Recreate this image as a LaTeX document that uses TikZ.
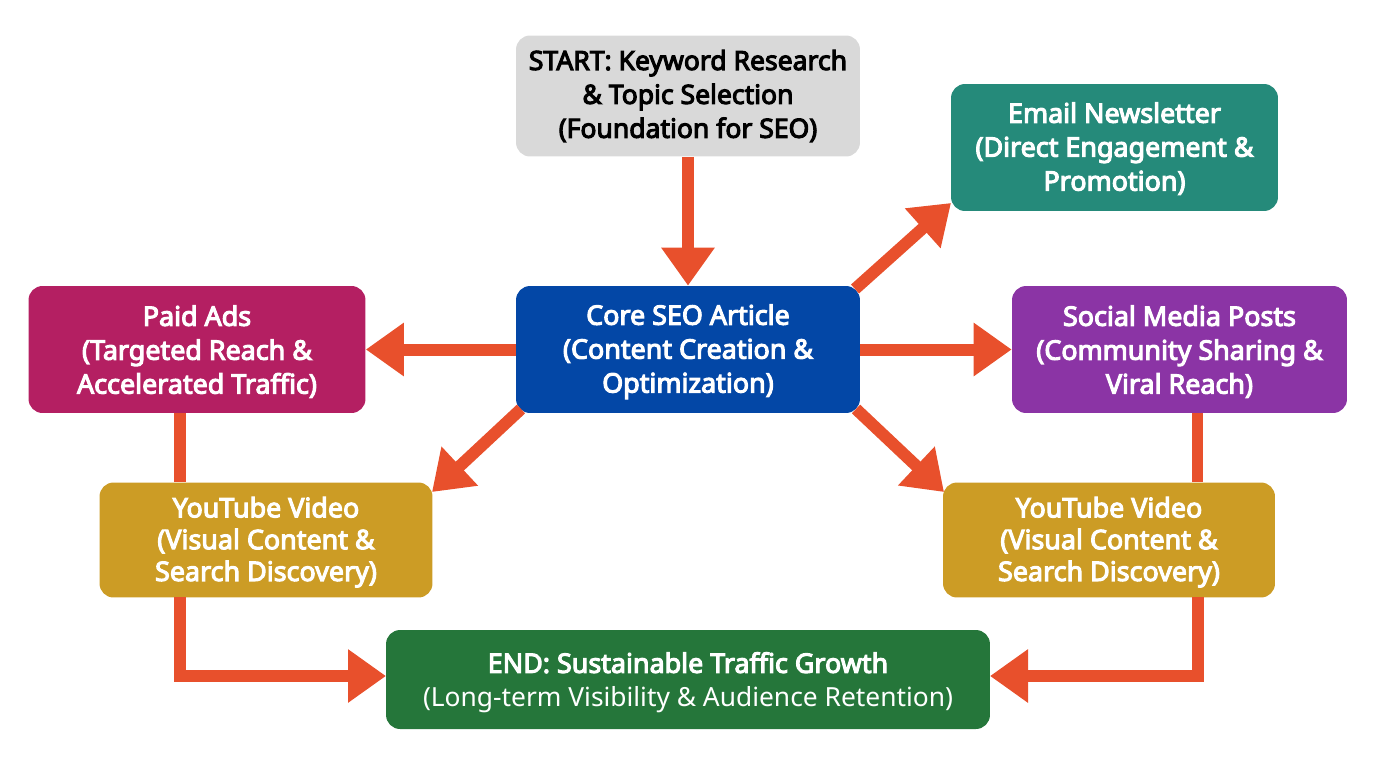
\documentclass[tikz,border=0pt]{standalone}
\usepackage{fontspec}
\setmainfont{Noto Sans}
\newfontfamily\heavyfont{Noto Sans}[FakeBold=4]
\usetikzlibrary{arrows.meta}
\definecolor{startgray}{HTML}{D9D9D9}
\definecolor{teal}{HTML}{258A7A}
\definecolor{corebl}{HTML}{0347A6}
\definecolor{paidred}{HTML}{B41F62}
\definecolor{socialpp}{HTML}{8B34A5}
\definecolor{ytgold}{HTML}{CC9C25}
\definecolor{endgreen}{HTML}{25763A}
\definecolor{arrowred}{HTML}{E8502C}
\tikzset{
  stepbox/.style={rounded corners=0.28cm, align=center, text=white, inner sep=0pt, text depth=1.2pt, font=\fontsize{15.3}{19.3}\selectfont\heavyfont},
  flow/.style={draw=arrowred, line width=0.24cm, -{Triangle[length=0.76cm,width=1.02cm]}},
  flowplain/.style={draw=arrowred, line width=0.23cm}
}
\begin{document}
\begin{tikzpicture}[x=0.02cm,y=-0.02cm]
  \useasboundingbox (0,0) rectangle (1376,768);
  % boxes
  \node[stepbox, text=black, text depth=2.5pt, font=\fontsize{15.1}{19.3}\selectfont\heavyfont, minimum width=6.88cm, minimum height=2.42cm, fill=startgray] (start) at (688,96) {START: Keyword Research\\\& Topic Selection\\(Foundation for SEO)};
  \node[stepbox, minimum width=6.54cm, minimum height=2.54cm, fill=teal] (email) at (1114.5,147.5) {Email Newsletter\\(Direct Engagement \&\\Promotion)};
  \node[stepbox, minimum width=6.88cm, minimum height=2.54cm, fill=corebl] (core) at (688,349.5) {Core SEO Article\\(Content Creation \&\\Optimization)};
  \node[stepbox, text depth=0pt, minimum width=6.74cm, minimum height=2.54cm, fill=paidred] (paid) at (197,349.5) {Paid Ads\\(Targeted Reach \&\\Accelerated Traffic)};
  \node[stepbox, text depth=0pt, minimum width=6.70cm, minimum height=2.54cm, fill=socialpp] (social) at (1179.5,349.5) {Social Media Posts\\(Community Sharing \&\\Viral Reach)};
  \node[stepbox, font=\fontsize{15.3}{18.1}\selectfont\heavyfont, minimum width=6.66cm, minimum height=2.30cm, fill=ytgold] (ytl) at (266,540) {YouTube Video\\(Visual Content \&\\Search Discovery)};
  \node[stepbox, font=\fontsize{15.3}{18.1}\selectfont\heavyfont, minimum width=6.64cm, minimum height=2.30cm, fill=ytgold] (ytr) at (1109,540) {YouTube Video\\(Visual Content \&\\Search Discovery)};
  \node[stepbox, text depth=0pt, minimum width=12.08cm, minimum height=1.98cm, fill=endgreen] (end) at (688,679.5) {END: Sustainable Traffic Growth\\{\rmfamily\fontsize{15}{19.3}\selectfont (Long-term Visibility \& Audience Retention)}};
  % arrows
  \draw[flow] (start.south) -- (core.north);
  \draw[flow] (core.west) -- (paid.east);
  \draw[flow] (core.east) -- (social.west);
  \coordinate (emailfoot) at (855,289);
  \coordinate (emailhead) at (951,203);
  \draw[flow] (emailfoot) -- (emailhead);
  \coordinate (ytlfoot) at (521,409);
  \coordinate (ytlhead) at (432,492);
  \draw[flow] (ytlfoot) -- (ytlhead);
  \coordinate (ytrfoot) at (856,409);
  \coordinate (ytrhead) at (944,492);
  \draw[flow] (ytrfoot) -- (ytrhead);
  \coordinate (paidfoot) at (180,413);
  \coordinate (ytltop) at (180,482);
  \draw[flowplain] (paidfoot) -- (ytltop);
  \coordinate (socialfoot) at (1197.5,413);
  \coordinate (ytrtop) at (1197.5,482);
  \draw[flowplain] (socialfoot) -- (ytrtop);
  \coordinate (ytlfoot2) at (180,597);
  \coordinate (ytrfoot2) at (1197.5,597);
  \coordinate (endleft) at (386,676);
  \coordinate (endright) at (990,676);
  \draw[flow] (ytlfoot2) |- (endleft);
  \draw[flow] (ytrfoot2) |- (endright);
\end{tikzpicture}
\end{document}
